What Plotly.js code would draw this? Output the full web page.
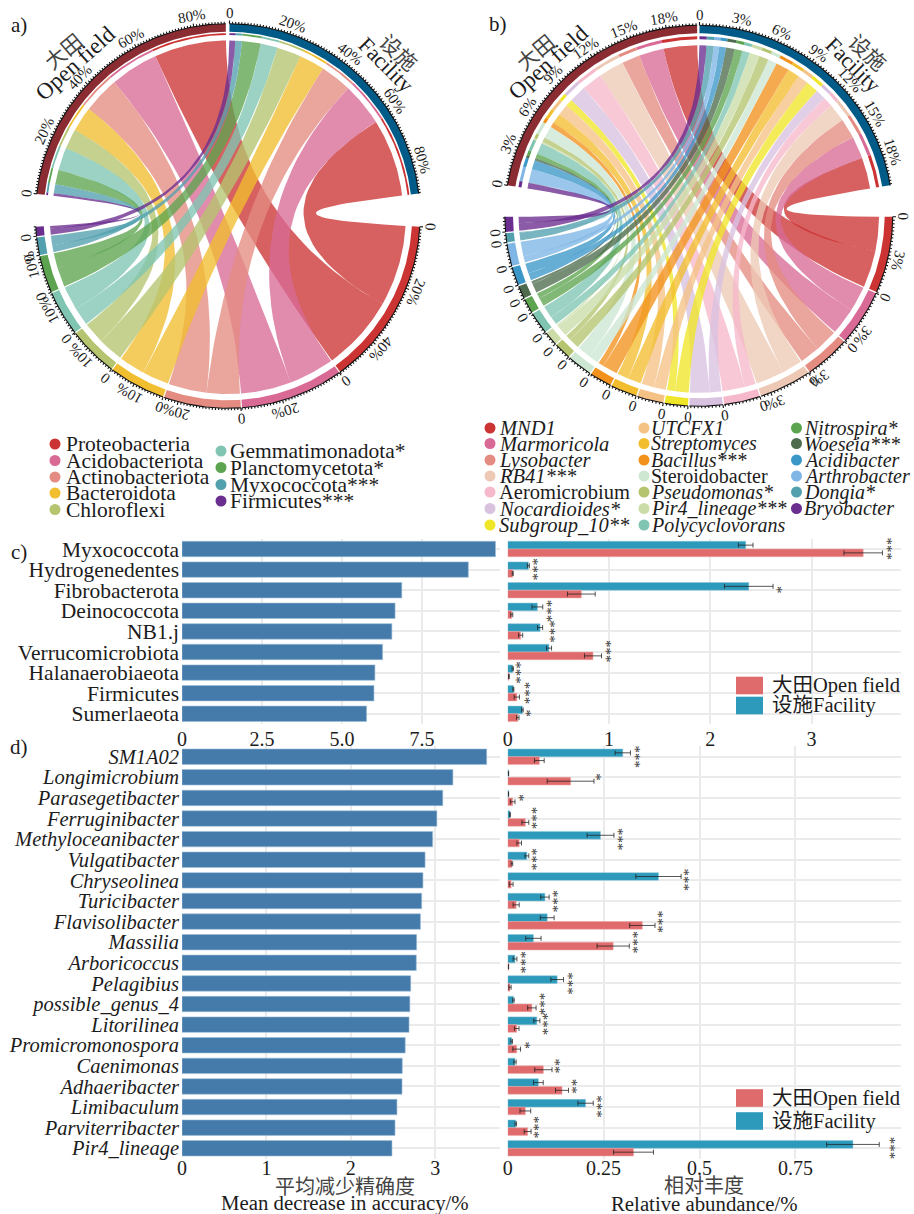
<!DOCTYPE html>
<html><head><meta charset="utf-8">
<script src="https://cdn.plot.ly/plotly-3.0.1.min.js"></script>
<style>html,body{margin:0;padding:0;background:#fff}</style></head>
<body><div id="plot" style="width:914px;height:1214px"></div>
<script>
// ---------- chord a: phyla, values in % ----------
const phylaNames=['Proteobacteria','Acidobacteriota','Actinobacteriota','Bacteroidota','Chloroflexi','Gemmatimonadota*','Planctomycetota*','Myxococcota***','Firmicutes***'];
const phylaOpen=[26,17.4,13.2,9,7.3,8.2,5.2,3.3,0.9];
const phylaFacility=[28,15.6,11.4,9.2,8.7,6.2,6.7,2.4,2.1];
const phylaColors=['#CC3333','#D96A96','#E48C82','#F1BE2F','#B5C46E','#7FC5B2','#5DA450','#52A0AE','#6A2D90'];
// ---------- chord b: genera, values in % ----------
const genusNames=['MND1','Marmoricola','Lysobacter','RB41***','Aeromicrobium','Nocardioides*','Subgroup_10**','UTCFX1','Streptomyces','Bacillus***','Steroidobacter','Pseudomonas*','Pir4_lineage***','Polycyclovorans','Nitrospira*','Woeseia***','Acidibacter','Arthrobacter','Dongia*','Bryobacter'];
const uprightNames=['Aeromicrobium','Steroidobacter'];
const genusOpen=[2.84,2.1,1.54,2.18,1.72,1.47,0.61,0.96,0.86,0.43,1.04,0.4,0.15,0.96,0.4,0.2,0.78,1.14,0.05,0.5];
const genusFacility=[2.68,1.92,1.72,1.54,0.84,0.89,1.04,0.91,1.01,1.14,0.76,0.81,0.86,0.63,0.66,0.73,0.56,0.48,0.61,0.58];
const genusColors=['#CC3333','#D96A96','#E48C82','#EDC9B5','#F6B9CB','#D9C1E0','#EFE628','#F5C285','#F2BE2F','#F2921D','#CDE7D3','#B5C46E','#CBDCA8','#7FC5B2','#5DA450','#4E6B4E','#3C97C9','#7FB6E6','#52A0AE','#6A2D90'];
// ---------- panel c ----------
const phylumC=['Myxococcota','Hydrogenedentes','Fibrobacterota','Deinococcota','NB1.j','Verrucomicrobiota','Halanaerobiaeota','Firmicutes','Sumerlaeota'];
const accuracyC=[9.80,8.95,6.87,6.66,6.56,6.27,6.03,6.0,5.77];
const facilityC=[2.35,0.204,2.38,0.293,0.32,0.408,0.05,0.056,0.145];
const facilityErrC=[0.072,0.01,0.24,0.053,0.025,0.025,0.006,0.005,0.008];
const openC=[3.51,0.05,0.727,0.04,0.128,0.842,0.012,0.09,0.1];
const openErrC=[0.19,0.005,0.137,0.01,0.02,0.084,0.004,0.026,0.012];
const starsC=['***','***','*','***','***','***','***','***','*'];
const starXC=[3.77,0.286,2.69,0.418,0.44,1.0,0.115,0.194,0.214];
// ---------- panel d ----------
const genusD=['SM1A02','Longimicrobium','Parasegetibacter','Ferruginibacter','Methyloceanibacter','Vulgatibacter','Chryseolinea','Turicibacter','Flavisolibacter','Massilia','Arboricoccus','Pelagibius','possible_genus_4','Litorilinea','Promicromonospora','Caenimonas','Adhaeribacter','Limibaculum','Parviterribacter','Pir4_lineage'];
const accuracyD=[3.61,3.21,3.09,3.02,2.97,2.88,2.855,2.84,2.825,2.78,2.776,2.71,2.70,2.69,2.645,2.61,2.607,2.547,2.524,2.488];
const facilityD=[0.30,0.002,0.002,0.006,0.242,0.05,0.393,0.097,0.103,0.067,0.019,0.129,0.015,0.076,0.0104,0.019,0.08,0.203,0.021,0.90];
const facilityErrD=[0.02,0.0005,0.0005,0.001,0.035,0.005,0.059,0.011,0.018,0.02,0.005,0.0165,0.002,0.008,0.002,0.003,0.0126,0.02,0.002,0.0686];
const openD=[0.0825,0.164,0.013,0.046,0.03,0.011,0.009,0.022,0.351,0.275,0.002,0.006,0.063,0.0235,0.0235,0.093,0.1416,0.046,0.052,0.328];
const openErrD=[0.0126,0.061,0.006,0.009,0.006,0.002,0.005,0.008,0.033,0.042,0.0005,0.003,0.011,0.006,0.01,0.0226,0.017,0.014,0.009,0.052];
const starsD=['***','*','*','***','***','***','***','***','***','***','***','***','***','***','*','**','**','***','***','***'];
const starXD=[0.34,0.238,0.037,0.073,0.296,0.073,0.467,0.126,0.40,0.335,0.042,0.163,0.093,0.102,0.052,0.132,0.175,0.24,0.078,1.003];

const SERIF="'Liberation Serif','Noto Sans CJK SC',serif";
const INK='#1c1c1c';
const traces=[], annotations=[], shapes=[];
const W=914,H=1214;
function label(x,y,text,size,o){o=o||{};annotations.push({xref:'x5',yref:'y5',x,y,text,showarrow:false,
  xanchor:o.xa||'center',yanchor:'middle',textangle:o.rot||0,
  font:{family:SERIF,size,color:o.color||INK,style:o.style||'normal'}});}
function rgba(hex,a){const n=parseInt(hex.slice(1),16);return `rgba(${n>>16},${(n>>8)&255},${n&255},${a})`;}

function chord(c){
  const P=(th,r)=>[c.cx+c.sx*r*Math.cos(th*Math.PI/180),c.cy-r*Math.sin(th*Math.PI/180)];
  const arc=(a,b,r)=>{const n=Math.max(2,Math.ceil(Math.abs(a-b)/0.5));const o=[];for(let i=0;i<=n;i++)o.push(P(a+(b-a)*i/n,r));return o;};
  const bez=(p,q)=>{const o=[];for(let i=1;i<30;i++){const t=i/30,u=1-t;
    o.push([u*u*p[0]+2*u*t*c.cx+t*t*q[0],u*u*p[1]+2*u*t*c.cy+t*t*q[1]]);}return o;};
  const poly=(pts,col)=>traces.push({type:'scatter',mode:'lines',xaxis:'x5',yaxis:'y5',x:pts.map(p=>p[0]),y:pts.map(p=>p[1]),
    fill:'toself',fillcolor:col,line:{width:0,color:col},hoverinfo:'skip',showlegend:false});
  const band=(a,b,r1,r2,col)=>poly(arc(a,b,r2).concat(arc(b,a,r1)),col);
  const n=c.names.length, sumO=c.open.reduce((s,v)=>s+v,0), sumF=c.fac.reduce((s,v)=>s+v,0);
  const sO=(c.openSpan[0]-c.openSpan[1])/sumO, sF=(c.facSpan[0]-c.facSpan[1])/sumF;
  const sB=((180-2*c.botGap)-(n-1)*c.sectGap)/(sumO+sumF);
  let aO=c.openSpan[0], aF=c.facSpan[0]; const top={};
  for(let i=n-1;i>=0;i--){
    top[i]={o:[aO,aO-c.open[i]*sO],f:[aF,aF-c.fac[i]*sF]};
    aO-=c.open[i]*sO; aF-=c.fac[i]*sF;
  }
  let b=-c.botGap; const tks=[];
  const pushTick=(th,r0,r1)=>{const p=P(th,r0),q=P(th,r1);tks.push(p,q,[null,null]);};
  const ticks=(start,dirScale,total,major,minor)=>{
    const steps=Math.round(total/minor);
    for(let k=0;k<=steps;k++){const v=k*minor; if(v>total+1e-6)break;
      const isMajor=Math.abs(v/major-Math.round(v/major))<1e-6;
      pushTick(start-v*dirScale,c.R,c.R+(isMajor?3.2:2));
      if(isMajor){const th=start-v*dirScale,p=P(th,c.R+10.5);
        label(p[0],p[1],v===0?'0':Math.round(v)+'%',15,{rot:90-th});}
    }};
  const ribbons=[];
  for(let i=0;i<n;i++){
    const tot=c.open[i]+c.fac[i];
    const b0=b,b1=b-c.fac[i]*sB,b2=b1-c.open[i]*sB;
    band(b0,b2,c.R-c.ring,c.R,c.colors[i]);
    tks.push.apply(tks,arc(b0,b2,c.R).concat([[null,null]]));
    ticks(b0,sB,tot,c.majorFor(tot),c.minor);
    ribbons.push([top[i].f,[b0,b1],c.colors[i]]);
    ribbons.push([top[i].o,[b1,b2],c.colors[i]]);
    band(top[i].o[0],top[i].o[1],c.thin[0],c.thin[1],c.colors[i]);
    band(top[i].f[0],top[i].f[1],c.thin[0],c.thin[1],c.colors[i]);
    b=b2-c.sectGap;
  }
  // ribbons: largest species first, small ones lie on top
  ribbons.forEach(r=>{
    const t=r[0],d=r[1];
    const a1=P(t[0],c.Rt),a2=P(t[1],c.Rt),d1=P(d[0],c.Rb),d2=P(d[1],c.Rb);
    const pts=arc(t[0],t[1],c.Rt).concat(bez(a2,d1),arc(d[0],d[1],c.Rb),bez(d2,a1),[a1]);
    poly(pts,rgba(r[2],c.alpha));
  });
  band(c.openSpan[0],c.openSpan[1],c.R-c.ring,c.R,'#8B2C33');
  band(c.facSpan[0],c.facSpan[1],c.R-c.ring,c.R,'#005B88');
  tks.push.apply(tks,arc(c.openSpan[0],c.openSpan[1],c.R).concat([[null,null]]));
  tks.push.apply(tks,arc(c.facSpan[0],c.facSpan[1],c.R).concat([[null,null]]));
  ticks(c.openSpan[0],sO,sumO,c.topMajor,c.minor);
  ticks(c.facSpan[0],sF,sumF,c.topMajor,c.minor);
  traces.push({type:'scatter',mode:'lines',xaxis:'x5',yaxis:'y5',x:tks.map(p=>p[0]),y:tks.map(p=>p[1]),
    line:{color:'#111',width:1.1},hoverinfo:'skip',showlegend:false,connectgaps:false});
}
chord({cx:227.8,cy:216,sx:1,R:192.3,ring:8,thin:[181,182.8],Rt:175.5,Rb:178,alpha:0.78,
  names:phylaNames,open:phylaOpen,fac:phylaFacility,colors:phylaColors,
  openSpan:[173.4,90.6],facSpan:[89.5,6.7],botGap:3.2,sectGap:0.35,
  topMajor:20,majorFor:t=>t>20?20:10,minor:1});
chord({cx:698.8,cy:215.8,sx:1.018,R:190.5,ring:8,thin:[176.5,179.5],Rt:170.5,Rb:177,alpha:0.78,
  names:genusNames,open:genusOpen,fac:genusFacility,colors:genusColors,
  openSpan:[170.8,90.5],facSpan:[89.8,9.2],botGap:0.3,sectGap:0.4,
  topMajor:3,majorFor:t=>3,minor:0.25});

// sector titles
label(75,63,'Open field',23,{rot:-42});label(64,52,'大田',21,{rot:-40,color:'#444'});
label(386,64,'Facility',22,{rot:45});label(398,53,'设施',21,{rot:42,color:'#444'});
label(548,62,'Open field',23,{rot:-42});label(536,53,'大田',21,{rot:-40,color:'#444'});
label(853,64,'Facility',22,{rot:45});label(867,53,'设施',21,{rot:42,color:'#444'});
// panel letters
label(19,25,'a)',21);label(498,24,'b)',21);label(19,552,'c)',21);label(19,747,'d)',21);

// legends of the chords
const dots={x:[],y:[],c:[]};
function legendCol(names,colors,idx,dotX,textX,ys,size,style){
  idx.forEach((k,j)=>{dots.x.push(dotX);dots.y.push(ys[j]);dots.c.push(colors[k]);
    label(textX,ys[j],names[k],size,{xa:'left',style:uprightNames.includes(names[k])?'normal':style});});
}
legendCol(phylaNames,phylaColors,[0,1,2,3,4],55,63.5,[444,460.5,477,493,509.5],21.5);
legendCol(phylaNames,phylaColors,[5,6,7,8],221,227.5,[451,467.5,484.5,501],21.5);
const by=[428,443.5,460,476,492,508.5,525];
legendCol(genusNames,genusColors,[0,1,2,3,4,5,6],490,497,by,20.5,'italic');
legendCol(genusNames,genusColors,[7,8,9,10,11,12,13],644,649,by,20,'italic');
legendCol(genusNames,genusColors,[14,15,16,17,18,19],796.5,802,by,20,'italic');
traces.push({type:'scatter',mode:'markers',xaxis:'x5',yaxis:'y5',x:dots.x,y:dots.y,
  marker:{size:11,color:dots.c},hoverinfo:'skip',showlegend:false});

// bars
const BLUE='#447BAA',FAC='#2E9ABB',OPEN='#E06B6C';
function leftBars(cat,val,xa,ya){traces.push({type:'bar',orientation:'h',y:cat,x:val,xaxis:xa,yaxis:ya,
  marker:{color:BLUE,line:{color:'#9DBDD8',width:0.6}},width:0.75,hoverinfo:'skip',showlegend:false});}
function rightBars(cat,f,fe,o,oe,xa,ya){
  const er=a=>({type:'data',array:a,visible:true,color:'rgba(30,30,30,0.75)',thickness:1,width:2.5});
  traces.push({type:'bar',orientation:'h',y:cat,x:f,error_x:er(fe),xaxis:xa,yaxis:ya,name:'设施Facility',
    marker:{color:FAC,line:{color:'#8CC6DA',width:0.5}},hoverinfo:'skip',showlegend:false});
  traces.push({type:'bar',orientation:'h',y:cat,x:o,error_x:er(oe),xaxis:xa,yaxis:ya,name:'大田Open field',
    marker:{color:OPEN,line:{color:'#EFA9A9',width:0.5}},hoverinfo:'skip',showlegend:false});
}
leftBars(phylumC,accuracyC,'x','y');
rightBars(phylumC,facilityC,facilityErrC,openC,openErrC,'x2','y2');
leftBars(genusD,accuracyD,'x3','y3');
rightBars(genusD,facilityD,facilityErrD,openD,openErrD,'x4','y4');

function stars(cat,st,xs,xa,ya){cat.forEach((c,i)=>annotations.push({xref:xa,yref:ya,x:xs[i],y:c,text:st[i],
  showarrow:false,textangle:90,xshift:-3,font:{family:SERIF,size:15,color:'#333'},xanchor:'center',yanchor:'middle'}));}
stars(phylumC,starsC,starXC,'x2','y2');
stars(genusD,starsD,starXD,'x4','y4');

// bar legends
function barLegend(y1,y2){
  [[y1,OPEN,'大田Open field'],[y2,FAC,'设施Facility']].forEach(r=>{
    shapes.push({type:'rect',xref:'x5',yref:'y5',x0:736,x1:763,y0:r[0]-8.8,y1:r[0]+8.8,fillcolor:r[1],line:{width:0}});
    label(769.5,r[0],r[2],20.5,{xa:'left'});
  });
}
barLegend(685.5,705.5);barLegend(1098,1121);
// axis titles
label(345,1187,'平均减少精确度',20,{color:'#444'});
label(345,1203,'Mean decrease in accuracy/%',20.8);
label(704,1186,'相对丰度',20,{color:'#444'});
label(704,1203,'Relative abundance/%',20.8);

const dom=(a,b)=>[a/W,b/W], domY=(top,bot)=>[1-bot/H,1-top/H];
const xBase={showgrid:true,gridcolor:'#ebebeb',gridwidth:2,zeroline:false,showline:false,ticks:'',
  tickfont:{family:SERIF,size:20,color:INK},ticklabelstandoff:1,fixedrange:true,tickmode:'array'};
const yBase={showgrid:true,gridcolor:'#ebebeb',gridwidth:2,zeroline:false,showline:false,ticks:'',type:'category',fixedrange:true,tickmode:'array'};
const layout={width:W,height:H,margin:{l:0,r:0,t:0,b:0},paper_bgcolor:'#fff',plot_bgcolor:'rgba(0,0,0,0)',
  showlegend:false,barmode:'group',bargap:0.25,bargroupgap:0,annotations,shapes,
  xaxis:Object.assign({},xBase,{domain:dom(182,500),range:[0,9.94],anchor:'y',tickvals:[0,2.5,5,7.5],ticktext:['0','2.5','5.0','7.5']}),
  yaxis:Object.assign({},yBase,{domain:domY(538.7,724.1),range:[8.5,-0.5],anchor:'x',categoryorder:'array',categoryarray:phylumC,
    tickvals:phylumC,ticktext:phylumC,ticklabelstandoff:2,tickfont:{family:SERIF,size:21.5,color:INK}}),
  xaxis2:Object.assign({},xBase,{domain:dom(507.7,901),range:[0,3.883],anchor:'y2',tickvals:[0,1,2,3],ticktext:['0','1','2','3']}),
  yaxis2:Object.assign({},yBase,{domain:domY(538.7,724.1),range:[8.5,-0.5],anchor:'x2',categoryorder:'array',categoryarray:phylumC,tickvals:phylumC,showticklabels:false}),
  xaxis3:Object.assign({},xBase,{domain:dom(182,500),range:[0,3.768],anchor:'y3',tickvals:[0,1,2,3],ticktext:['0','1','2','3'],ticklabelstandoff:-5}),
  yaxis3:Object.assign({},yBase,{domain:domY(746.4,1158.6),range:[19.5,-0.5],anchor:'x3',categoryorder:'array',categoryarray:genusD,
    tickvals:genusD,ticktext:genusD,ticklabelstandoff:2,tickfont:{family:SERIF,size:20.5,color:INK,style:'italic'}}),
  xaxis4:Object.assign({},xBase,{domain:dom(507.7,901),range:[0,1.0253],anchor:'y4',tickvals:[0,0.25,0.5,0.75],ticktext:['0','0.25','0.5','0.75'],ticklabelstandoff:-5}),
  yaxis4:Object.assign({},yBase,{domain:domY(746.4,1158.6),range:[19.5,-0.5],anchor:'x4',categoryorder:'array',categoryarray:genusD,tickvals:genusD,showticklabels:false}),
  xaxis5:{domain:[0,1],range:[0,W],visible:false,anchor:'y5',fixedrange:true},
  yaxis5:{domain:[0,1],range:[H,0],visible:false,anchor:'x5',fixedrange:true}
};
Plotly.newPlot('plot',traces,layout,{displayModeBar:false,staticPlot:true});
</script></body></html>
